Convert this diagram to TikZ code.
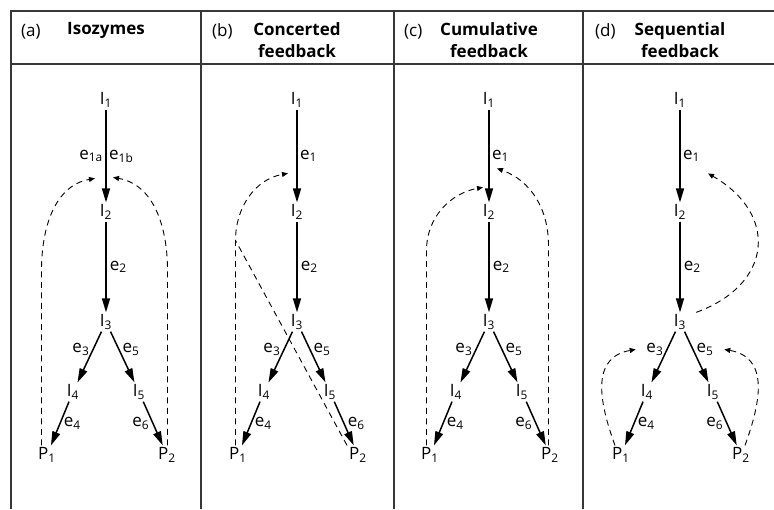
\documentclass[tikz,border=0pt]{standalone}
\usepackage{fontspec}
\setmainfont{Open Sans}
\definecolor{linegray}{RGB}{55,55,55}
\usetikzlibrary{arrows.meta,positioning,calc}

\begin{document}
\begin{tikzpicture}[x=1pt, y=1pt,
    panelline/.style={draw=linegray, line width=1.2pt},
    met/.style={font=\fontsize{17}{20}\selectfont, inner sep=2pt},
    enz/.style={font=\fontsize{17}{20}\selectfont, inner sep=3pt},
    rxn/.style={line width=1.5pt, -{Triangle[length=14pt,width=8pt]}},
    fb/.style={line width=0.9pt, dash pattern=on 6pt off 4.5pt, -{Triangle[length=6pt,width=5pt]}},
    fbline/.style={line width=0.9pt, dash pattern=on 6pt off 4.5pt},
    tag/.style={font=\fontsize{17}{22}\selectfont, anchor=base west, inner sep=0pt},
    head/.style={font=\fontsize{17}{22}\selectfont\bfseries, align=center, anchor=north, inner sep=0pt}]
  \useasboundingbox (0,0) rectangle (774,-509);

  % table lines
  \draw[panelline] (774,-11) -| (11,-509);
  \draw[panelline] (11,-64) -- (774,-64);
  \foreach \x in {201,394,583}
    \draw[panelline] (\x,-11) -- (\x,-509);

  % the same pathway in every panel
  \foreach \p/\x/\ttl/\s in {a/106/Isozymes/left, b/297/{Concerted\\feedback}/right,
                             c/489/{Cumulative\\feedback}/left, d/680/{Sequential\\feedback}/left} {
    \node[tag] (tag-\p) at (\x-85,-36) {(\p)};
    \node[head] (head-\p) at (\x,-22) {\ttl};
    \node[met] (I1-\p) at (\x,-100) {I\textsubscript{1}};
    \node[met] (I2-\p) at (\x,-212) {I\textsubscript{2}};
    \node[met] (I3-\p) at (\x,-322) {I\textsubscript{3}};
    \node[met] (I4-\p) at (\x-33,-392) {I\textsubscript{4}};
    \node[met] (I5-\p) at (\x+33,-392) {I\textsubscript{5}};
    \node[met] (P1-\p) at (\x-59,-455) {P\textsubscript{1}};
    \node[met] (P2-\p) at (\x+61,-455) {P\textsubscript{2}};
    \draw[rxn] (I1-\p) -- (I2-\p);
    \draw[rxn] (I2-\p) -- node[enz,right] (e2-\p) {e\textsubscript{2}} (I3-\p);
    \draw[rxn] (I3-\p) -- node[enz,left,pos=0.35] (e3-\p) {e\textsubscript{3}} (I4-\p);
    \draw[rxn] (I3-\p) -- node[enz,right,pos=0.35] (e5-\p) {e\textsubscript{5}} (I5-\p);
    \draw[rxn] (I4-\p) -- node[enz,right] (e4-\p) {e\textsubscript{4}} (P1-\p);
    \draw[rxn] (I5-\p) -- node[enz,\s] (e6-\p) {e\textsubscript{6}} (P2-\p);
  }
  \path (I1-a) -- node[enz,left] (e1a-a) {e\textsubscript{1a}}
                  node[enz,right] (e1b-a) {e\textsubscript{1b}} (I2-a);
  \foreach \p in {b,c,d}
    \path (I1-\p) -- node[enz,right] (e1-\p) {e\textsubscript{1}} (I2-\p);

  % (a) isozymes
  \draw[fb] ([xshift=-5.5]P1-a.north) -- ++(0,175) to[out=90,in=190] ([shift={(-11,24)}]I2-a.north);
  \draw[fb] ([xshift=0.5]P2-a.north) -- ++(0,175) to[out=90,in=-10] ([shift={(7,25)}]I2-a.north);

  % (b) concerted
  \coordinate (join-b) at ([shift={(-2.5,205)}]P1-b.north);
  \draw[fb] ([xshift=-2.5]P1-b.north) -- (join-b) to[out=90,in=190] ([shift={(-9,29)}]I2-b.north);
  \draw[fbline] (P2-b.north west) -- (join-b);

  % (c) cumulative
  \draw[fb] ([xshift=-3.5]P1-c.north) -- ++(0,195) to[out=90,in=190] ([shift={(-6,15)}]I2-c.north);
  \draw[fb] ([xshift=-1.5]P2-c.north) -- ++(0,200) to[out=90,in=-20] ([shift={(8,34)}]I2-c.north);

  % (d) sequential
  \draw[fb] ([xshift=8]I3-d.north east) to[out=20,in=-30,looseness=1.5] ([shift={(28,29)}]I2-d.north);
  \draw[fb] ([xshift=-6]P1-d.north) to[out=110,in=190,looseness=1.2] ([xshift=-7]e3-d.west);
  \draw[fb] ([xshift=4]P2-d.north) to[out=70,in=-10,looseness=1.2] ([xshift=7]e5-d.east);
\end{tikzpicture}
\end{document}
